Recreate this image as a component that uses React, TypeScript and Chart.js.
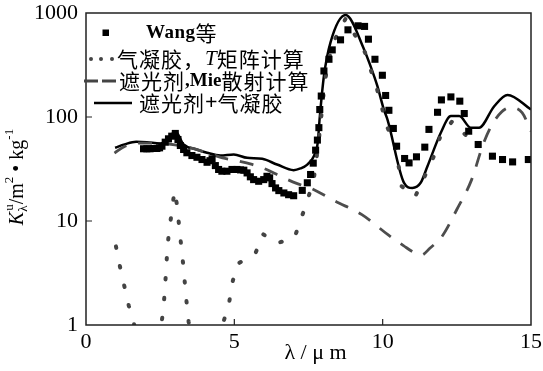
import React, { useEffect, useRef } from "react";
import { Chart, registerables } from "chart.js";

Chart.register(...registerables);

// ---------- data ----------
const wangLambda = [
  1.94, 2.05, 2.16, 2.28, 2.39, 2.48, 2.56, 2.67, 2.78, 2.89,
  3.01, 3.10, 3.18, 3.29, 3.40, 3.57, 3.74, 3.91, 4.08, 4.18,
  4.25, 4.36, 4.47, 4.58, 4.75, 4.92, 5.09, 5.21, 5.32, 5.43,
  5.54, 5.65, 5.82, 5.99, 6.10, 6.19, 6.27, 6.39, 6.50, 6.67,
  6.83, 7.00, 7.29, 7.46, 7.57, 7.66, 7.74, 7.80, 7.85, 7.88,
  7.93, 8.02, 8.19, 8.30, 8.58, 8.83, 9.17, 9.39, 9.52, 9.74,
  9.99, 10.10, 10.21, 10.36, 10.47, 10.74, 10.89, 11.14, 11.42, 11.56,
  11.85, 11.98, 12.30, 12.60, 12.75, 12.90, 13.22, 13.70, 14.04, 14.38,
  14.91,
];
const wangK = [
  49.5, 49.5, 49.5, 49.8, 49.8, 50.5, 52.4, 57.3, 61.7, 65.4,
  69.5, 60.8, 53.2, 48.7, 45.3, 42.6, 41, 39, 36.7, 38,
  39.6, 34.1, 31.3, 30.1, 30.1, 31.3, 31.3, 31, 30.8, 29,
  26.6, 25, 24.1, 25, 26.9, 26, 22.9, 20.8, 19.6, 18.6,
  17.9, 17.5, 19.7, 23.3, 28, 36, 48, 60, 79, 118,
  159, 277, 359, 442, 552, 689, 753, 743, 560, 359,
  252, 161, 116, 77.6, 52.4, 39.9, 36.2, 41.4, 51.3, 76,
  111, 146, 156, 142, 108, 73, 54.4, 42, 39, 37,
  39,
];

const aeroLambda = [
  1.01, 1.14, 1.29, 1.44, 1.62, 2.1, 2.61, 2.66, 2.70, 2.74,
  2.80, 2.90, 2.98, 3.06, 3.13, 3.20, 3.27, 3.33, 3.39, 3.46,
  4.0, 4.62, 4.82, 4.92, 5.10, 5.71, 5.96, 6.40, 7.02, 7.25,
  7.48, 7.68, 7.85, 8.05, 8.3, 8.75, 9.4, 9.8, 10.14, 10.44,
  10.64, 11.09, 11.41, 11.71, 11.94, 12.35, 12.84,
];
const aeroK = [
  5.7, 3.7, 2.38, 1.54, 1.02, 0.12, 1.43, 2.21, 3.39, 5.25,
  8.1, 12.6, 19.5, 14.7, 9.5, 6.1, 3.96, 2.56, 1.66, 1.07,
  0.1, 1.04, 1.6, 2.47, 3.85, 4.87, 7.5, 6.1, 6.8, 10.5,
  16.3, 25.4, 60, 220, 500, 880, 420, 190, 81.7, 52,
  21.6, 17, 26.6, 41, 64.6, 91.3, 65,
];

const mieLambda = [
  0.96, 1.3, 1.8, 2.4, 3.0, 3.6, 4.2, 4.6, 5.1, 5.6,
  6.0, 6.6, 7.1, 7.6, 8.4, 9.3, 10.2, 10.7, 11.1, 11.3,
  11.6, 12.0, 12.5, 13.0, 13.4, 13.8, 14.3, 14.7, 15.0,
];
const mieK = [
  45, 52, 56, 56, 54, 50, 44, 40.5, 38, 35,
  32, 26.5, 23, 20.5, 15.5, 11.5, 7.3, 5.8, 4.9, 4.7,
  5.5, 7.1, 12.9, 25, 56, 95, 123, 110, 73,
];

const combLambda = [
  0.98, 1.3, 1.69, 2.05, 2.5, 2.75, 3.01, 3.29, 3.7, 4.08,
  4.53, 4.98, 5.43, 5.94, 6.44, 7.0, 7.23, 7.46, 7.68, 7.81,
  7.88, 8.02, 8.24, 8.75, 9.37, 9.59, 9.82, 10.04, 10.16, 10.72,
  11.0, 11.28, 11.51, 11.96, 12.3, 12.58, 12.97, 13.25, 13.76, 14.21,
  15.0,
];
const combK = [
  50.6, 54.5, 57.8, 57.3, 55.6, 60, 73, 54.4, 49, 45.3,
  42.6, 43.6, 40.5, 39.6, 34.9, 30.8, 32, 34.9, 42, 56.5,
  100, 248, 520, 955, 449, 309, 199, 118, 95, 23.3,
  20.8, 23.3, 33.6, 70.6, 102, 102, 79, 79, 127, 163,
  118,
];

const xTickValues = [0, 5, 10, 15];
const yTickValues = [1, 10, 100, 1000];

const seriesNames = ["Wang等", "气凝胶，T矩阵计算", "遮光剂,Mie散射计算", "遮光剂+气凝胶"];
const xTitle = "λ / μ m";

// ---------- helpers ----------
const SERIF = '"Liberation Serif", "DejaVu Serif", serif';
const CJK = '"Noto Sans CJK SC", sans-serif';

const toPoints = (xs: number[], ys: number[]) => xs.map((x, i) => ({ x, y: ys[i] }));

type Seg = { text: string; font: string; spacing?: number };

function drawSegs(ctx: any, x: number, y: number, segs: Seg[]) {
  let cx = x;
  for (const s of segs) {
    ctx.font = s.font;
    ctx.letterSpacing = (s.spacing ?? 0) + "px";
    ctx.fillText(s.text, cx, y);
    cx += ctx.measureText(s.text).width;
  }
  ctx.letterSpacing = "0px";
}

function drawLegend(ctx: any) {
  const cjk = `21px ${CJK}`;
  const lat = `bold 19px ${SERIF}`;
  const plus = `bold 22px ${SERIF}`;
  const latI = `italic 21px ${SERIF}`;
  ctx.save();
  ctx.fillStyle = "#000";
  ctx.textAlign = "left";
  ctx.textBaseline = "middle";

  // row 1: squares
  ctx.fillRect(102.5, 29.5, 6.5, 6.5);
  drawSegs(ctx, 146, 33, [
    { text: "Wang", font: lat, spacing: 0.5 },
    { text: "等", font: cjk },
  ]);

  // row 2: dotted
  ctx.fillStyle = "#444";
  for (const dx of [91, 101, 112]) {
    ctx.beginPath();
    ctx.arc(dx, 59, 2, 0, Math.PI * 2);
    ctx.fill();
  }
  ctx.fillStyle = "#000";
  drawSegs(ctx, 117, 59, [
    { text: "气凝胶，", font: cjk, spacing: 1 },
    { text: "T", font: latI },
    { text: "矩阵计算", font: cjk, spacing: 1 },
  ]);

  // row 3: dashed
  ctx.strokeStyle = "#444";
  ctx.lineWidth = 3;
  ctx.beginPath();
  ctx.moveTo(84, 81); ctx.lineTo(98, 81);
  ctx.moveTo(102, 81); ctx.lineTo(116, 81);
  ctx.stroke();
  drawSegs(ctx, 119, 81, [
    { text: "遮光剂", font: cjk, spacing: 1 },
    { text: ",", font: lat },
    { text: "Mie", font: lat },
    { text: "散射计算", font: cjk, spacing: 1 },
  ]);

  // row 4: solid
  ctx.strokeStyle = "#000";
  ctx.lineWidth = 2.5;
  ctx.beginPath();
  ctx.moveTo(94, 103); ctx.lineTo(132, 103);
  ctx.stroke();
  drawSegs(ctx, 139, 103, [
    { text: "遮光剂", font: cjk, spacing: 1 },
    { text: "+", font: plus },
    { text: "气凝胶", font: cjk, spacing: 1 },
  ]);
  ctx.restore();
}

function drawTitles(ctx: any, area: any) {
  const big = `20px ${SERIF}`;
  const bigI = `italic 20px ${SERIF}`;
  const sm = `13px ${SERIF}`;
  ctx.save();
  ctx.fillStyle = "#000";
  // x title
  ctx.font = `22px ${SERIF}`;
  ctx.textAlign = "center";
  ctx.textBaseline = "middle";
  ctx.fillText(xTitle, (area.left + area.right) / 2 + 7, 353);

  // y title (rotated)
  ctx.textAlign = "left";
  ctx.textBaseline = "alphabetic";
  ctx.font = bigI; const wK = ctx.measureText("K").width;
  ctx.font = sm; const wSub = Math.max(ctx.measureText("λ").width, ctx.measureText("u").width) + 1;
  ctx.font = big; const wSl = ctx.measureText("/m").width;
  ctx.font = sm; const w2 = ctx.measureText("2").width;
  ctx.font = big; const wKg = ctx.measureText(" • kg").width;
  ctx.font = sm; const wM = ctx.measureText("-1").width;
  const total = wK + wSub + wSl + w2 + wKg + wM;
  const cy = (area.top + area.bottom) / 2 + 8;
  ctx.translate(23, cy + total / 2);
  ctx.rotate(-Math.PI / 2);
  let x = 0;
  ctx.font = bigI; ctx.fillText("K", x, 0); x += wK;
  ctx.font = sm; ctx.fillText("λ", x, 4); ctx.fillText("u", x + 1, -10); x += wSub;
  ctx.font = big; ctx.fillText("/m", x, 0); x += wSl;
  ctx.font = sm; ctx.fillText("2", x, -10); x += w2;
  ctx.font = big; ctx.fillText(" • kg", x, 0); x += wKg;
  ctx.font = sm; ctx.fillText("-1", x, -10);
  ctx.restore();
}

const decorPlugin = {
  id: "decor",
  afterDraw(chart: any) {
    const { ctx, chartArea: a, scales } = chart;
    ctx.save();
    ctx.strokeStyle = "#222";
    ctx.lineWidth = 1.5;
    ctx.strokeRect(a.left, a.top, a.right - a.left, a.bottom - a.top);
    ctx.lineWidth = 1.2;
    ctx.beginPath();
    for (const v of xTickValues) {
      if (v === scales.x.min || v === scales.x.max) continue;
      const px = scales.x.getPixelForValue(v);
      ctx.moveTo(px, a.bottom);
      ctx.lineTo(px, a.bottom - 6);
    }
    for (const v of yTickValues) {
      if (v === scales.y.min || v === scales.y.max) continue;
      const py = scales.y.getPixelForValue(v);
      ctx.moveTo(a.left, py);
      ctx.lineTo(a.left + 6, py);
    }
    ctx.stroke();
    ctx.restore();
    drawLegend(ctx);
    drawTitles(ctx, a);
  },
};

export default function App() {
  const canvasRef = useRef<HTMLCanvasElement | null>(null);

  useEffect(() => {
    const canvas = canvasRef.current;
    if (!canvas) return;
    const tickFont = { family: SERIF, size: 22 };
    const chart = new Chart(canvas, {
      type: "scatter",
      data: {
        datasets: [
          {
            label: seriesNames[0],
            data: toPoints(wangLambda, wangK),
            showLine: false,
            pointStyle: "rect",
            pointRadius: 5,
            backgroundColor: "#000",
            borderColor: "#000",
            borderWidth: 0,
          },
          {
            label: seriesNames[1],
            data: toPoints(aeroLambda, aeroK),
            showLine: true,
            borderColor: "#444",
            borderWidth: 4,
            borderDash: [1.5, 18.5],
            borderCapStyle: "round",
            pointRadius: 0,
            tension: 0,
          },
          {
            label: seriesNames[2],
            data: toPoints(mieLambda, mieK),
            showLine: true,
            borderColor: "#4d4d4d",
            borderWidth: 2.8,
            borderDash: [14, 12],
            pointRadius: 0,
            cubicInterpolationMode: "monotone",
          },
          {
            label: seriesNames[3],
            data: toPoints(combLambda, combK),
            showLine: true,
            borderColor: "#000",
            borderWidth: 2.5,
            pointRadius: 0,
            cubicInterpolationMode: "monotone",
          },
        ],
      } as any,
      options: {
        animation: false,
        responsive: false,
        devicePixelRatio: 1,
        layout: { padding: { left: 0, right: 12, top: 13, bottom: 0 } },
        plugins: {
          legend: { display: false },
          tooltip: { enabled: false },
          title: { display: false },
        },
        scales: {
          x: {
            type: "linear",
            min: 0,
            max: 15,
            grid: { display: false, drawTicks: false },
            border: { display: false },
            afterBuildTicks: (s: any) => {
              s.ticks = xTickValues.map((v) => ({ value: v }));
            },
            afterFit: (s: any) => {
              s.height = 46;
              s.paddingLeft = 0;
              s.paddingRight = 0;
            },
            ticks: {
              autoSkip: false,
              maxRotation: 0,
              padding: 4,
              color: "#000",
              font: tickFont,
              callback: (v: any) => String(v),
            },
          },
          y: {
            type: "logarithmic",
            min: 1,
            max: 1000,
            grid: { display: false, drawTicks: false },
            border: { display: false },
            afterBuildTicks: (s: any) => {
              s.ticks = yTickValues.map((v) => ({ value: v }));
            },
            afterFit: (s: any) => {
              s.width = 86;
              s.paddingTop = 0;
              s.paddingBottom = 0;
            },
            ticks: {
              autoSkip: false,
              padding: 8,
              color: "#000",
              font: tickFont,
              callback: (v: any) => String(v),
            },
          },
        },
      } as any,
      plugins: [decorPlugin],
    });
    return () => chart.destroy();
  }, []);

  return (
    <div style={{ position: "absolute", left: 0, top: 0, width: 543, height: 371, background: "#fff" }}>
      <canvas ref={canvasRef} width={543} height={371} style={{ display: "block" }} />
    </div>
  );
}
